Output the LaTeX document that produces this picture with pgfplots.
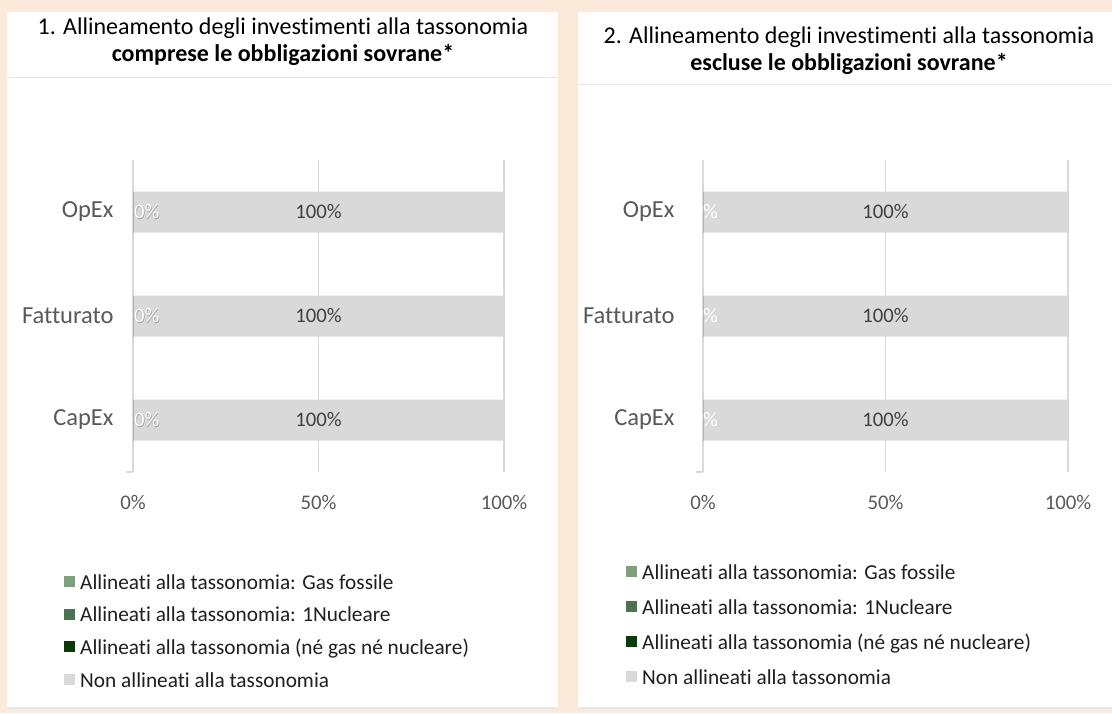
\documentclass[border=0pt]{standalone}
\usepackage{pgfplots}
\pgfplotsset{compat=1.18}
\usepackage{fontspec}
\setmainfont{Carlito}[Ligatures=NoCommon]
\definecolor{peach}{HTML}{FBE9D9}
\definecolor{gridc}{HTML}{D9D9D9}
\definecolor{barc}{HTML}{D9D9D9}
\definecolor{gasc}{HTML}{7F9F7F}
\definecolor{nucc}{HTML}{4E7352}
\definecolor{dkc}{HTML}{0A3A0A}
\definecolor{labc}{HTML}{595959}
\definecolor{datc}{HTML}{404040}
\definecolor{shc}{HTML}{A6A6A6}
\definecolor{sepc}{HTML}{E8E8E8}
\newcommand\outl[1]{\makebox[0pt][l]{\hspace*{0.7pt}\raisebox{-0.7pt}{\textcolor{shc}{#1}}}\makebox[0pt][l]{\hspace*{-0.5pt}\raisebox{0.5pt}{\textcolor{shc!70}{#1}}}\textcolor{white}{#1}}
\pgfplotsset{
 /pgf/number format/assume math mode=true,
 taxo/.style={
  xbar, bar shift=0pt, bar width=41pt, scale only axis, height=312pt,
  xmin=0, xmax=100, ymin=-0.5, ymax=2.5,
  axis line style={draw=none},
  xtick={0,50,100}, xticklabels={0\%,50\%,100\%},
  ytick={0,1,2}, yticklabels={CapEx,Fatturato,OpEx},
  xtick style={draw=none}, ytick style={draw=none},
  xmajorgrids, grid style={gridc, line width=1.6pt},
  tick label style={text=labc},
  xticklabel style={font=\fontsize{20.8}{24}\selectfont, yshift=-20pt},
  yticklabel style={font=\fontsize{24.5}{28}\selectfont, inner sep=0pt},
  legend cell align=left, reverse legend,
  legend style={draw=none, fill=none, inner sep=0pt, anchor=north west,
    font=\fontsize{21.3}{25}\selectfont, text=black!88, row sep=12pt,
    nodes={inner sep=2pt},
    /tikz/every odd column/.append style={column sep=3pt}},
  legend image code/.code={\fill[##1, draw=none] (0pt,-4.5pt) rectangle (11pt,6.5pt);},
  clip=false,
 },
 hundred/.style={nodes near coords={\pgfmathprintnumber{\pgfplotspointmeta}\%},
   every node near coord/.append style={anchor=center, xshift=-0.5*#1, text=datc,
     font=\fontsize{20.7}{24}\selectfont}},
}
\begin{document}
\begin{tikzpicture}
\fill[peach] (0,0) rectangle (1112pt,713pt);
% panels
\fill[white] (7pt,5pt) rectangle (558pt,701pt);
\fill[white] (578pt,5pt) rectangle (1112pt,701pt);
\draw[sepc, line width=1pt] (7pt,635pt) -- (558pt,635pt);
\draw[sepc, line width=1pt] (578pt,628pt) -- (1112pt,628pt);
\draw[sepc, line width=1.5pt] (7pt,5pt) -- (558pt,5pt);
\draw[sepc, line width=1.5pt] (578pt,5pt) -- (1112pt,5pt);
% titles
\node[align=center, font=\fontsize{24}{27}\selectfont, inner sep=0pt] at (283pt,671pt)
  {1. Allineamento degli investimenti alla tassonomia\\\textbf{comprese le obbligazioni sovrane*}};
\node[align=center, font=\fontsize{24}{27}\selectfont, inner sep=0pt] at (849pt,662pt)
  {2. Allineamento degli investimenti alla tassonomia\\\textbf{escluse le obbligazioni sovrane*}};

\begin{axis}[taxo, width=371pt, at={(133pt,241pt)}, anchor=south west,
  yticklabel style={xshift=-15pt},
  legend style={at={(-0.186,-0.322)}}]
\addplot[fill=barc, draw=none, hundred=371pt] coordinates {(100,0) (100,1) (100,2)};
\addlegendentry{Non allineati alla tassonomia}
\addplot[fill=dkc, draw=none] coordinates {(0,0) (0,1) (0,2)};
\addlegendentry{Allineati alla tassonomia (né gas né nucleare)}
\addplot[fill=nucc, draw=none] coordinates {(0,0) (0,1) (0,2)};
\addlegendentry{Allineati alla tassonomia: 1Nucleare}
\addplot[fill=gasc, draw=none, nodes near coords={\outl{\pgfmathprintnumber{\pgfplotspointmeta}\%}},
  every node near coord/.append style={anchor=west, inner sep=0pt, xshift=1pt,
  font=\fontsize{20.7}{24}\selectfont}] coordinates {(0,0) (0,1) (0,2)};
\addlegendentry{Allineati alla tassonomia: Gas fossile}
\draw[gridc, line width=1.6pt] (axis cs:0,-0.5) -- ([xshift=-7pt]axis cs:0,-0.5);
\end{axis}

\begin{axis}[taxo, width=365pt, at={(703pt,241pt)}, anchor=south west,
  yticklabel style={xshift=-24pt},
  legend style={at={(-0.211,-0.29)}, row sep=14.5pt}]
\addplot[fill=barc, draw=none, hundred=365pt] coordinates {(100,0) (100,1) (100,2)};
\addlegendentry{Non allineati alla tassonomia}
\addplot[fill=dkc, draw=none] coordinates {(0,0) (0,1) (0,2)};
\addlegendentry{Allineati alla tassonomia (né gas né nucleare)}
\addplot[fill=nucc, draw=none] coordinates {(0,0) (0,1) (0,2)};
\addlegendentry{Allineati alla tassonomia: 1Nucleare}
\addplot[fill=gasc, draw=none, nodes near coords={\textcolor{white}{\pgfmathprintnumber{\pgfplotspointmeta}\%}},
  every node near coord/.append style={anchor=west, inner sep=0pt, xshift=-10.5pt,
  font=\fontsize{20.7}{24}\selectfont}] coordinates {(0,0) (0,1) (0,2)};
\addlegendentry{Allineati alla tassonomia: Gas fossile}
\draw[gridc, line width=1.6pt] (axis cs:0,-0.5) -- ([xshift=-7pt]axis cs:0,-0.5);
\end{axis}
\pgfresetboundingbox
\path (0,0) rectangle (1112pt,713pt);
\end{tikzpicture}
\end{document}
